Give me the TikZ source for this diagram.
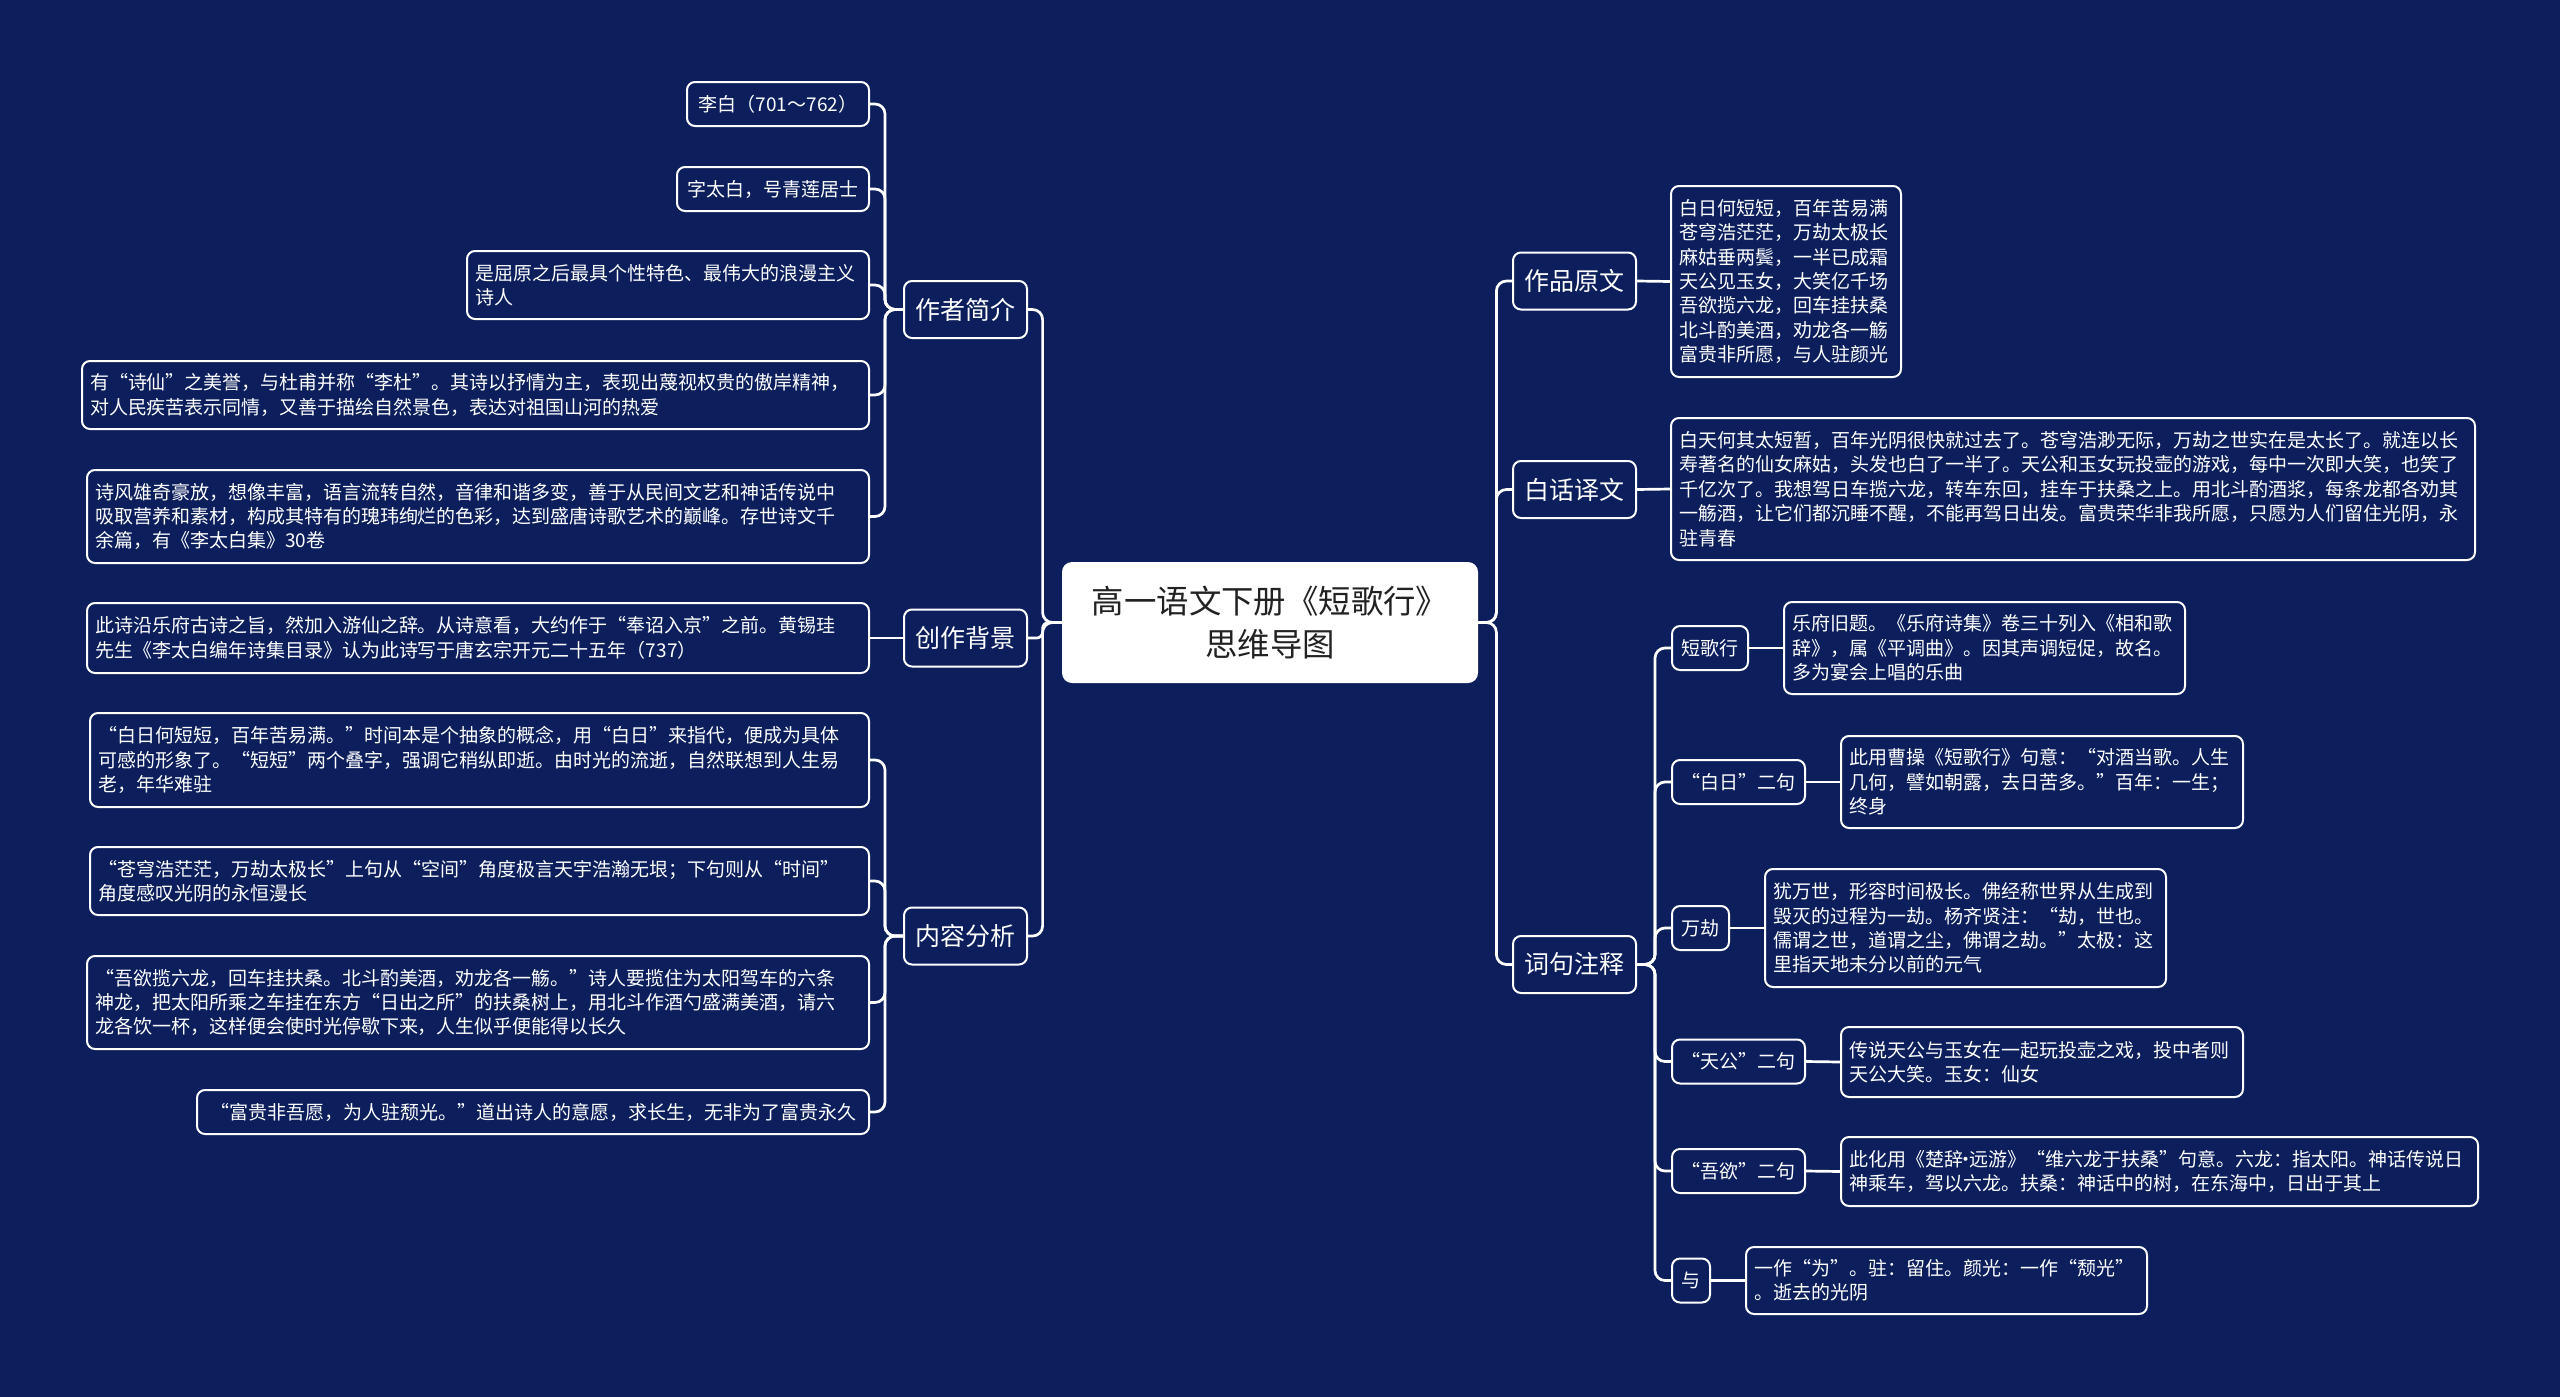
\documentclass[tikz,border=0pt]{standalone}
\usepackage{fontspec}
\setmainfont{Noto Sans CJK SC}
\definecolor{bg}{HTML}{0C1F5C}
\definecolor{roottext}{HTML}{222222}
\newcommand{\middot}{\hbox to 0.35em{\hss·\hss}}
\tikzset{
  box/.style={draw=white, line width=1pt, rounded corners=4pt, fill=bg, text=white,
    inner xsep=4pt, inner ysep=2pt, align=left},
  leaf/.style={box, font=\fontsize{9.5}{12.2}\selectfont},
  leafone/.style={box, font=\fontsize{9.5}{12.2}\selectfont, align=center, inner xsep=2pt},
  lab/.style={box, font=\fontsize{9.5}{12.2}\selectfont, align=center, inner xsep=1pt, minimum height=22pt},
  mainb/.style={box, font=\fontsize{12.5}{15}\selectfont, align=center, minimum width=61.5pt, minimum height=28.5pt},
  rootb/.style={fill=white, rounded corners=5pt, text=roottext, font=\fontsize{16.2}{21.5}\selectfont,
    align=center, minimum width=208pt, minimum height=60.5pt},
  conn/.style={draw=white, line width=1.35pt, rounded corners=5pt}
}
\begin{document}
\begin{tikzpicture}[x=0.5pt,y=-0.5pt]
\useasboundingbox (0,0) rectangle (2560,1397);
\fill[bg] (0,0) rectangle (2560,1397);

% root
\node[rootb] (root) at (1270,622.5) {高一语文下册《短歌行》\\思维导图};

% main branches
\node[mainb] (m1) at (965.5,309.5) {作者简介};
\node[mainb] (m2) at (965.5,638) {创作背景};
\node[mainb] (m3) at (965.5,936) {内容分析};
\node[mainb] (n1) at (1574.5,281) {作品原文};
\node[mainb] (n2) at (1574.5,489.5) {白话译文};
\node[mainb] (n3) at (1574.5,964.5) {词句注释};

% left leaves
\node[leafone, minimum width=91pt, minimum height=22pt] (l1) at (778,104) {李白（701～762）};
\node[leafone, minimum width=96pt, minimum height=22pt] (l2) at (773,189) {字太白，号青莲居士};
\node[leaf, text width=193pt, minimum height=34pt] (l3) at (668,285) {是屈原之后最具个性特色、最伟大的浪漫主义\\诗人};
\node[leaf, text width=385.5pt, minimum height=34pt] (l4) at (475.5,395) {有“诗仙”之美誉，与杜甫并称“李杜”。其诗以抒情为主，表现出蔑视权贵的傲岸精神，\\对人民疾苦表示同情，又善于描绘自然景色，表达对祖国山河的热爱};
\node[leaf, text width=383pt, minimum height=46.5pt] (l5) at (478,516.5) {诗风雄奇豪放，想像丰富，语言流转自然，音律和谐多变，善于从民间文艺和神话传说中\\吸取营养和素材，构成其特有的瑰玮绚烂的色彩，达到盛唐诗歌艺术的巅峰。存世诗文千\\余篇，有《李太白集》30卷};
\node[leaf, text width=383pt, minimum height=35pt] (l6) at (478,638) {此诗沿乐府古诗之旨，然加入游仙之辞。从诗意看，大约作于“奉诏入京”之前。黄锡珪\\先生《李太白编年诗集目录》认为此诗写于唐玄宗开元二十五年（737）};
\node[leaf, text width=381.5pt, minimum height=47pt] (l7) at (479.5,760) {“白日何短短，百年苦易满。”时间本是个抽象的概念，用“白日”来指代，便成为具体\\可感的形象了。“短短”两个叠字，强调它稍纵即逝。由时光的流逝，自然联想到人生易\\老，年华难驻};
\node[leaf, text width=381.5pt, minimum height=34pt] (l8) at (479.5,881) {“苍穹浩茫茫，万劫太极长”上句从“空间”角度极言天宇浩瀚无垠；下句则从“时间”\\角度感叹光阴的永恒漫长};
\node[leaf, text width=383pt, minimum height=46.5pt] (l9) at (478,1002.5) {“吾欲揽六龙，回车挂扶桑。北斗酌美酒，劝龙各一觞。”诗人要揽住为太阳驾车的六条\\神龙，把太阳所乘之车挂在东方“日出之所”的扶桑树上，用北斗作酒勺盛满美酒，请六\\龙各饮一杯，这样便会使时光停歇下来，人生似乎便能得以长久};
\node[leafone, minimum width=336pt, minimum height=22pt] (l10) at (533,1112) {“富贵非吾愿，为人驻颓光。”道出诗人的意愿，求长生，无非为了富贵永久};

% right leaves
\node[leaf, text width=107pt, minimum height=95.5pt] (r1) at (1786,281.5) {白日何短短，百年苦易满\\苍穹浩茫茫，万劫太极长\\麻姑垂两鬓，一半已成霜\\天公见玉女，大笑亿千场\\吾欲揽六龙，回车挂扶桑\\北斗酌美酒，劝龙各一觞\\富贵非所愿，与人驻颜光};
\node[leaf, text width=394pt, minimum height=71pt] (r2) at (2073,489) {白天何其太短暂，百年光阴很快就过去了。苍穹浩渺无际，万劫之世实在是太长了。就连以长\\寿著名的仙女麻姑，头发也白了一半了。天公和玉女玩投壶的游戏，每中一次即大笑，也笑了\\千亿次了。我想驾日车揽六龙，转车东回，挂车于扶桑之上。用北斗酌酒浆，每条龙都各劝其\\一觞酒，让它们都沉睡不醒，不能再驾日出发。富贵荣华非我所愿，只愿为人们留住光阴，永\\驻青春};

\node[lab, minimum width=38pt] (s1) at (1710,648) {短歌行};
\node[lab, minimum width=66.5pt] (s2) at (1738.5,782) {“白日”二句};
\node[lab, minimum width=28.5pt] (s3) at (1700.5,928) {万劫};
\node[lab, minimum width=66.5pt] (s4) at (1738.5,1061.5) {“天公”二句};
\node[lab, minimum width=66.5pt] (s5) at (1738.5,1171) {“吾欲”二句};
\node[lab, minimum width=19pt] (s6) at (1691,1280.5) {与};

\node[leaf, text width=192.5pt, minimum height=46pt] (r3) at (1984.5,648) {乐府旧题。《乐府诗集》卷三十列入《相和歌\\辞》，属《平调曲》。因其声调短促，故名。\\多为宴会上唱的乐曲};
\node[leaf, text width=193pt, minimum height=46pt] (r4) at (2042,782) {此用曹操《短歌行》句意：“对酒当歌。人生\\几何，譬如朝露，去日苦多。”百年：一生；\\终身};
\node[leaf, text width=192.5pt, minimum height=59pt] (r5) at (1965.5,928) {犹万世，形容时间极长。佛经称世界从生成到\\毁灭的过程为一劫。杨齐贤注：“劫，世也。\\儒谓之世，道谓之尘，佛谓之劫。”太极：这\\里指天地未分以前的元气};
\node[leaf, text width=193pt, minimum height=35pt] (r6) at (2042,1062) {传说天公与玉女在一起玩投壶之戏，投中者则\\天公大笑。玉女：仙女};
\node[leaf, text width=310.5pt, minimum height=34.5pt] (r7) at (2159.5,1171.5) {此化用《楚辞\middot 远游》“维六龙于扶桑”句意。六龙：指太阳。神话传说日\\神乘车，驾以六龙。扶桑：神话中的树，在东海中，日出于其上};
\node[leaf, text width=192.5pt, minimum height=33.5pt] (r8) at (1946.5,1280.5) {一作“为”。驻：留住。颜光：一作“颓光”\\。逝去的光阴};

% connectors: root
\draw[conn] (root.west) -- ++(-19,0) |- (m1.east);
\draw[conn, rounded corners=3pt] (root.west) -- ++(-19,0) |- (m2.east);
\draw[conn] (root.west) -- ++(-19,0) |- (m3.east);
\draw[conn] (root.east) -- ++(18,0) |- (n1.west);
\draw[conn] (root.east) -- ++(18,0) |- (n2.west);
\draw[conn] (root.east) -- ++(18,0) |- (n3.west);

% 作者简介
\foreach \c in {l1,l2,l3,l4,l5}
  \draw[conn] (m1.west) -- ++(-18,0) |- (\c.east);
% 创作背景
\draw[conn] (m2.west) -- (l6.east);
% 内容分析
\foreach \c in {l7,l8,l9,l10}
  \draw[conn] (m3.west) -- ++(-18,0) |- (\c.east);

% right side
\draw[conn] (n1.east) -- (r1.west);
\draw[conn] (n2.east) -- (r2.west);
\foreach \c in {s1,s2,s3,s4,s5,s6}
  \draw[conn] (n3.east) -- ++(18,0) |- (\c.west);
\draw[conn] (s1.east) -- (r3.west);
\draw[conn] (s2.east) -- (r4.west);
\draw[conn] (s3.east) -- (r5.west);
\draw[conn] (s4.east) -- (r6.west);
\draw[conn] (s5.east) -- (r7.west);
\draw[conn] (s6.east) -- (r8.west);
\end{tikzpicture}
\end{document}
